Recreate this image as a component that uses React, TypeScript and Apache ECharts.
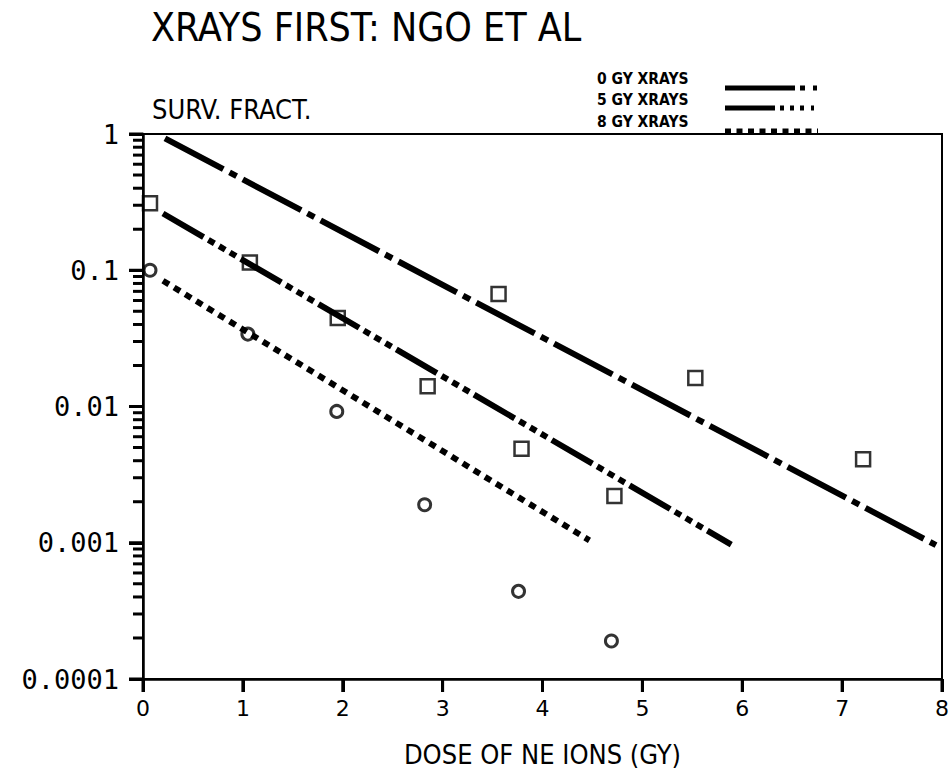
import React, { useEffect, useRef } from "react";
import * as echarts from "echarts";

// ---- data ----
const seriesNames = ["0 GY XRAYS", "5 GY XRAYS", "8 GY XRAYS"];

// fitted lines (endpoints)
const line0Gy: [number, number][] = [[0.22, 0.93], [7.94, 0.00096]];
const line5Gy: [number, number][] = [[0.2, 0.261], [5.89, 0.00097]];
const line8Gy: [number, number][] = [[0.2, 0.0837], [4.47, 0.00104]];

// measured points
const squareX = [0.07, 1.07, 1.95, 2.85, 3.56, 3.79, 4.72, 5.53, 7.21];
const squareY = [0.31, 0.114, 0.0446, 0.0141, 0.067, 0.0049, 0.0022, 0.0162, 0.0041];
const circleX = [0.07, 1.05, 1.94, 2.82, 3.76, 4.69];
const circleY = [0.1, 0.034, 0.0092, 0.0019, 0.00044, 0.00019];

const xTickValues = [0, 1, 2, 3, 4, 5, 6, 7, 8];
const yTickValues = [0.0001, 0.001, 0.01, 0.1, 1];
const yTickLabels = ["0.0001", "0.001", "0.01", "0.1", "1"];
const yMinorTicks = [
  0.0002, 0.0003, 0.0004, 0.0005, 0.0006, 0.0007, 0.0008, 0.0009,
  0.002, 0.003, 0.004, 0.005, 0.006, 0.007, 0.008, 0.009,
  0.02, 0.03, 0.04, 0.05, 0.06, 0.07, 0.08, 0.09,
  0.2, 0.3, 0.4, 0.5, 0.6, 0.7, 0.8, 0.9,
];

const titleText = "XRAYS FIRST: NGO ET AL";
const yName = "SURV. FRACT.";
const xName = "DOSE OF NE IONS (GY)";

const NARROW = "'Liberation Sans Narrow', 'DejaVu Sans Condensed', 'Liberation Sans', sans-serif";

const dash0 = [66, 7, 8, 7];
const dash5 = [47, 5.5, 7, 5.5, 7, 5.5, 7, 5.5];
const dash8 = [7, 6];

export default function App() {
  const ref = useRef<HTMLDivElement>(null);
  useEffect(() => {
    if (!ref.current) return;
    const chart = echarts.init(ref.current, undefined, { renderer: "svg" });
    const zip = (xs: number[], ys: number[]) => xs.map((x, i) => [x, ys[i]]);
    const lineSeries = (name: string, data: [number, number][], dash: number[]) => ({
      name,
      type: "line",
      data,
      showSymbol: false,
      symbol: "none",
      lineStyle: { color: "#000", width: 6, type: dash, cap: "butt" },
      z: 2,
    });
    const tickSeries = (name: string, data: number[][], size: number[], offset: number[]) => ({
      name,
      type: "scatter",
      data,
      clip: false,
      silent: true,
      symbol: "rect",
      symbolSize: size,
      symbolOffset: offset,
      itemStyle: { color: "#000", borderWidth: 0, opacity: 1 },
      z: 5,
    });
    const legendRows = [0, 1, 2];
    const legendDash = [
      [70, 5, 5, 8, 4, 200],
      [50, 5, 4, 6, 4, 6, 4, 7, 3, 200],
      [6, 5.5],
    ];
    chart.setOption({
      animation: false,
      backgroundColor: "#fff",
      grid: {
        left: 143,
        right: 7,
        top: 134,
        bottom: 95,
        containLabel: false,
        outerBoundsMode: "none",
        show: true,
        borderColor: "#000",
        borderWidth: 2,
      },
      xAxis: {
        type: "value",
        min: 0,
        max: 8,
        interval: 1,
        name: xName,
        nameLocation: "middle",
        nameGap: 62,
        nameTextStyle: { color: "#000", fontSize: 27, fontFamily: NARROW },
        axisLine: { show: true, onZero: false, lineStyle: { color: "#000", width: 2.5 } },
        axisTick: { show: true, length: 13, lineStyle: { color: "#000", width: 3 } },
        axisLabel: {
          color: "#000",
          fontSize: 22,
          fontFamily: "DejaVu Sans",
          margin: 18,
          formatter: (v: number) => (xTickValues.includes(v) ? String(v) : ""),
        },
        splitLine: { show: false },
      },
      yAxis: {
        type: "log",
        logBase: 10,
        min: 0.0001,
        max: 1,
        axisLine: { show: true, onZero: false, lineStyle: { color: "#000", width: 2.5 } },
        axisTick: { show: true, length: 14, lineStyle: { color: "#000", width: 3 } },
        axisLabel: {
          color: "#000",
          fontSize: 27,
          fontFamily: "DejaVu Sans Mono",
          margin: 24,
          formatter: (v: number) => {
            const i = yTickValues.findIndex((t) => Math.abs(Math.log10(t) - Math.log10(v)) < 1e-6);
            return i >= 0 ? yTickLabels[i] : "";
          },
        },
        splitLine: { show: false },
      },
      series: [
        lineSeries(seriesNames[0], line0Gy, dash0),
        lineSeries(seriesNames[1], line5Gy, dash5),
        lineSeries(seriesNames[2], line8Gy, dash8),
        {
          name: "squares",
          type: "scatter",
          data: zip(squareX, squareY),
          symbol: "rect",
          symbolSize: 14,
          itemStyle: { color: "transparent", borderColor: "#000", borderWidth: 2.5 },
          z: 3,
        },
        {
          name: "circles",
          type: "scatter",
          data: zip(circleX, circleY),
          symbol: "circle",
          symbolSize: 12,
          itemStyle: { color: "transparent", borderColor: "#000", borderWidth: 3 },
          z: 3,
        },
        tickSeries("yMinorTicks", yMinorTicks.map((v) => [0, v]), [10, 3], [-5, 0]),
        tickSeries("yMajorTicks", yTickValues.map((v) => [0, v]), [14, 3], [-7, 0]),
        tickSeries("xTicks", xTickValues.map((v) => [v, 0.0001]), [3, 13], [0, 6.5]),
      ],
      graphic: [
        {
          type: "text",
          left: 151,
          top: 8,
          style: { text: titleText, fontSize: 39, fontFamily: NARROW, fill: "#000" },
        },
        {
          type: "text",
          left: 152,
          top: 96,
          style: { text: yName, fontSize: 27, fontFamily: NARROW, fill: "#000" },
        },
        ...legendRows.map((i) => ({
          type: "text",
          left: 597,
          top: [71, 92, 114][i],
          style: {
            text: seriesNames[i],
            fontSize: 15.5,
            fontWeight: "bold",
            fontFamily: NARROW,
            fill: "#000",
          },
        })),
        ...legendRows.map((i) => ({
          type: "line",
          shape: { x1: 725, y1: [88, 108, 131][i], x2: 818, y2: [88, 108, 131][i] },
          style: { stroke: "#000", lineWidth: 5, lineDash: legendDash[i] },
        })),
      ],
    });
    return () => chart.dispose();
  }, []);
  return <div ref={ref} style={{ width: 949, height: 774, position: "absolute", left: 0, top: 0 }} />;
}
